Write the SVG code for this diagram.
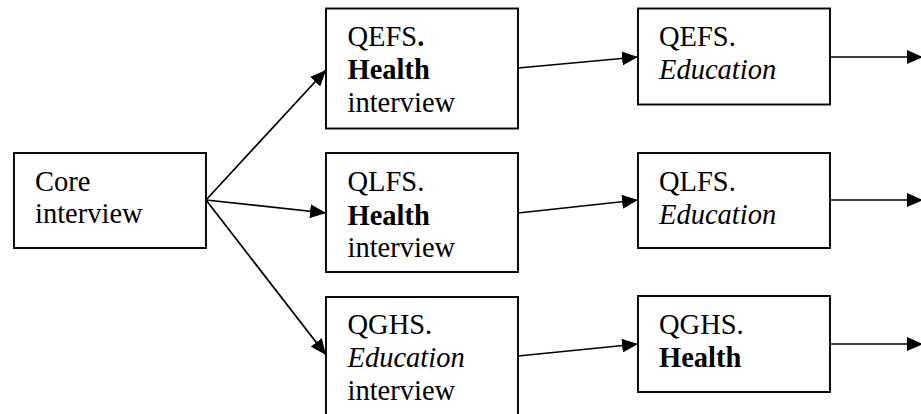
<svg xmlns="http://www.w3.org/2000/svg" width="921" height="414" viewBox="0 0 921 414">
<style>
.box{fill:#fff;stroke:#000;stroke-width:1.9}
.t{font-family:'Liberation Serif','Times New Roman',Tinos,serif;font-size:28.5px;fill:#000}
.b{font-weight:bold}
.i{font-style:italic}
.edge{stroke:#000;stroke-width:1.7;fill:none;marker-end:url(#ah)}
</style>
<defs>
<marker id="ah" markerUnits="userSpaceOnUse" markerWidth="17" markerHeight="14" refX="16" refY="7" orient="auto">
<path d="M0,0 L16,7 L0,14 z" fill="#000"/>
</marker>
</defs>
<rect width="921" height="414" fill="#fff"/>
<g id="connectors">
<line class="edge" x1="206" y1="200" x2="326" y2="70"/>
<line class="edge" x1="206" y1="200" x2="326" y2="213"/>
<line class="edge" x1="206" y1="200" x2="326" y2="355"/>
<line class="edge" x1="518" y1="68" x2="638" y2="57"/>
<line class="edge" x1="518" y1="213" x2="638" y2="200"/>
<line class="edge" x1="518" y1="356" x2="638" y2="344"/>
<line class="edge" x1="830" y1="57" x2="923" y2="57"/>
<line class="edge" x1="830" y1="200" x2="923" y2="200"/>
<line class="edge" x1="830" y1="344" x2="923" y2="344"/>
</g>
<g id="core">
<rect class="box" x="14" y="153" width="192" height="95"/>
<text class="t" x="35" y="190.5">Core</text>
<text class="t" x="35" y="223">interview</text>
</g>
<g id="qefs-health">
<rect class="box" x="326" y="8.5" width="192" height="120"/>
<text class="t" x="347.5" y="45.5">QEFS<tspan class="b">.</tspan></text>
<text class="t b" x="347.5" y="79">Health</text>
<text class="t" x="347.5" y="112">interview</text>
</g>
<g id="qlfs-health">
<rect class="box" x="326" y="153" width="192" height="119"/>
<text class="t" x="347.5" y="191">QLFS.</text>
<text class="t b" x="347.5" y="224.5">Health</text>
<text class="t" x="347.5" y="257">interview</text>
</g>
<g id="qghs-education">
<rect class="box" x="326" y="297" width="192" height="125"/>
<text class="t" x="347.5" y="333.5">QGHS.</text>
<text class="t i" x="347.5" y="367">Education</text>
<text class="t" x="347.5" y="400">interview</text>
</g>
<g id="qefs-education">
<rect class="box" x="638" y="8.5" width="192" height="96"/>
<text class="t" x="659" y="45.5">QEFS.</text>
<text class="t i" x="659" y="79">Education</text>
</g>
<g id="qlfs-education">
<rect class="box" x="638" y="153" width="192" height="95"/>
<text class="t" x="659" y="191">QLFS.</text>
<text class="t i" x="659" y="224">Education</text>
</g>
<g id="qghs-health">
<rect class="box" x="638" y="296" width="192" height="96"/>
<text class="t" x="659" y="333.5">QGHS.</text>
<text class="t b" x="659" y="367">Health</text>
</g>
</svg>
